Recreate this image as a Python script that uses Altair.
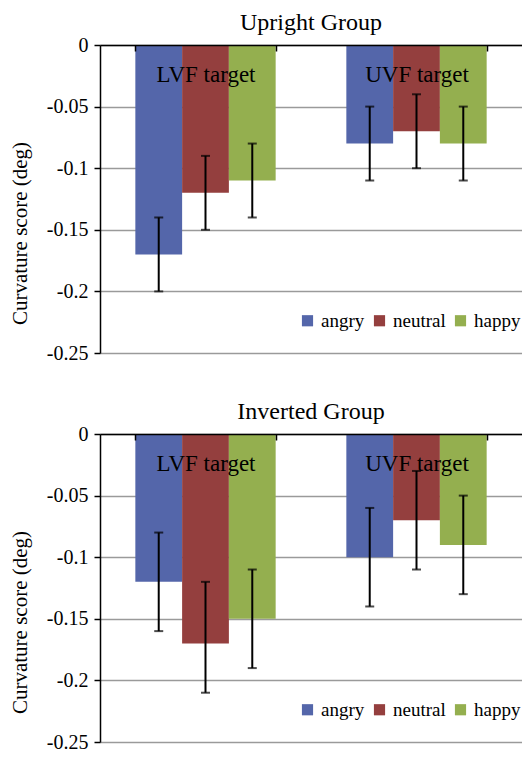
import altair as alt
import pandas as pd

categories = ["LVF target", "UVF target"]
emotions = ["angry", "neutral", "happy"]
colors = ["#5466AA", "#943F3E", "#94AF4F"]

upright_vals = [[-0.17, -0.12, -0.11], [-0.08, -0.07, -0.08]]
upright_lo = [[-0.20, -0.15, -0.14], [-0.11, -0.10, -0.11]]
upright_hi = [[-0.14, -0.09, -0.08], [-0.05, -0.04, -0.05]]

inverted_vals = [[-0.12, -0.17, -0.15], [-0.10, -0.07, -0.09]]
inverted_lo = [[-0.16, -0.21, -0.19], [-0.14, -0.11, -0.13]]
inverted_hi = [[-0.08, -0.12, -0.11], [-0.06, -0.03, -0.05]]

y_ticks = [0, -0.05, -0.1, -0.15, -0.2, -0.25]

FONT = "Liberation Serif"
W, H = 422, 308
YTITLE = "Curvature score (deg)"


def y_axis():
    return alt.Axis(
        values=y_ticks,
        labelExpr="datum.value == 0 ? '0' : '-' + format(-datum.value, '.2~f')",
        labelFont=FONT,
        labelFontSize=20,
        labelColor="black",
        labelPadding=6,
        tickSize=6,
        tickColor="black",
        tickWidth=1.5,
        domainColor="black",
        domainWidth=1.5,
        grid=True,
        gridColor="#9a9a9a",
        gridWidth=1.5,
        titleFont=FONT,
        titleFontSize=21,
        titleFontWeight="normal",
        titleColor="black",
        titlePadding=16,
        titleY=188,
        zindex=0,
    )


def x_axis():
    return alt.Axis(
        orient="bottom",
        offset=-H,
        labelAngle=0,
        tickBand="extent",
        zindex=1,
        labelFont=FONT,
        labelFontSize=23,
        labelColor="black",
        labelPadding=12,
        tickSize=6,
        tickColor="black",
        tickWidth=1.5,
        domainColor="black",
        domainWidth=1.5,
        grid=False,
    )


def panel(title, vals, lo, hi):
    rows = []
    for i, c in enumerate(categories):
        for j, e in enumerate(emotions):
            rows.append(dict(cat=c, emo=e, val=vals[i][j], lo=lo[i][j], hi=hi[i][j]))
    df = pd.DataFrame(rows)

    yscale = alt.Scale(domain=[-0.25, 0], nice=False, zero=False)
    x = alt.X("cat:N", sort=categories, title=None,
              scale=alt.Scale(paddingInner=0.335, paddingOuter=0.1675), axis=x_axis())
    xr = alt.X("cat:N", sort=categories, title=None, axis=x_axis())
    xo = alt.XOffset("emo:N", sort=emotions, scale=alt.Scale(paddingInner=0, paddingOuter=0))
    base = alt.Chart(df)
    bars = base.mark_bar().encode(
        x=x,
        xOffset=xo,
        y=alt.Y("val:Q", title=YTITLE, scale=yscale, axis=y_axis()),
        color=alt.Color(
            "emo:N",
            sort=emotions,
            scale=alt.Scale(domain=emotions, range=colors),
            legend=alt.Legend(
                title=None,
                orient="none",
                direction="horizontal",
                legendX=198,
                legendY=266,
                symbolType="square",
                symbolSize=125,
                symbolStrokeWidth=0,
                symbolOpacity=1,
                labelFont=FONT,
                labelFontSize=19,
                labelColor="black",
                labelOffset=4,
                columnPadding=5,
                padding=0,
            ),
        ),
    )
    rules = base.mark_rule(color="black", strokeWidth=2).encode(
        x=xr,
        xOffset=alt.XOffset("emo:N", sort=emotions),
        y=alt.Y("lo:Q", title=YTITLE, axis=y_axis()),
        y2="hi:Q",
    )
    cap_lo = base.mark_tick(color="black", thickness=2, size=9, orient="horizontal").encode(
        x=xr,
        xOffset=alt.XOffset("emo:N", sort=emotions),
        y=alt.Y("lo:Q", title=YTITLE, axis=y_axis()),
    )
    cap_hi = base.mark_tick(color="black", thickness=2, size=9, orient="horizontal").encode(
        x=xr,
        xOffset=alt.XOffset("emo:N", sort=emotions),
        y=alt.Y("hi:Q", title=YTITLE, axis=y_axis()),
    )
    return alt.layer(bars, rules, cap_lo, cap_hi).properties(
        width=W,
        height=H,
        title=alt.Title(title, font=FONT, fontSize=24, fontWeight="normal", color="black",
                        anchor="middle", offset=0),
    )


top = panel("Upright Group", upright_vals, upright_lo, upright_hi)
bottom = panel("Inverted Group", inverted_vals, inverted_lo, inverted_hi)

chart = (
    alt.vconcat(top, bottom, spacing=37)
    .resolve_scale(color="independent")
    .resolve_legend(color="independent")
    .properties(padding={"left": 1, "top": 3, "right": 0, "bottom": 0}, background="white")
    .configure(font=FONT)
    .configure_view(stroke=None)
    .configure_axis(labelFont=FONT, titleFont=FONT)
    .configure_legend(labelFont=FONT, labelColor="black")
    .configure_title(font=FONT, fontWeight="normal", color="black")
)

chart.save("out.html", embed_options={"renderer": "svg", "actions": False})
